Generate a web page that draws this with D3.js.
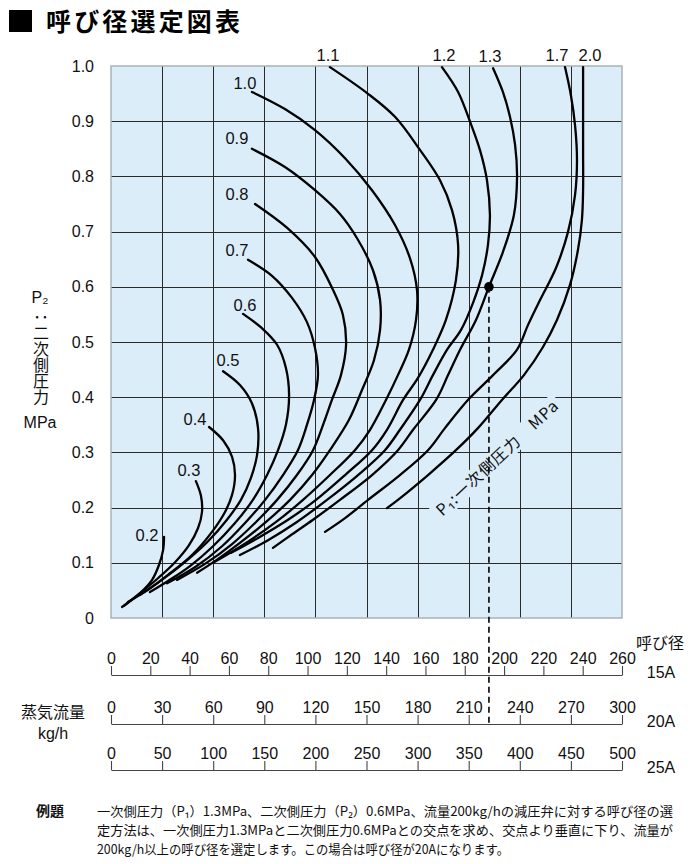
<!DOCTYPE html>
<html><head><meta charset="utf-8">
<script src="https://cdn.jsdelivr.net/npm/d3@7/dist/d3.min.js"></script>
<style>
body{margin:0;background:#fff;}
svg{display:block;}
</style></head><body>
<svg id="c" width="700" height="864"></svg>
<script>
// ---------------- data ----------------
const p2Ticks = [0, 0.1, 0.2, 0.3, 0.4, 0.5, 0.6, 0.7, 0.8, 0.9, 1.0];
const p2TickLabels = ["0", "0.1", "0.2", "0.3", "0.4", "0.5", "0.6", "0.7", "0.8", "0.9", "1.0"];
const flow15A = [0, 20, 40, 60, 80, 100, 120, 140, 160, 180, 200, 220, 240, 260];
const flow20A = [0, 30, 60, 90, 120, 150, 180, 210, 240, 270, 300];
const flow25A = [0, 50, 100, 150, 200, 250, 300, 350, 400, 450, 500];
const sizeNames = ["15A", "20A", "25A"];
const p1Labels = ["0.2", "0.3", "0.4", "0.5", "0.6", "0.7", "0.8", "0.9", "1.0", "1.1", "1.2", "1.3", "1.7", "2.0"];

// each curve: [flow (kg/h on 15A scale), P2 (MPa)]
const curve_0_2 = [[27.0,0.147],[26.5,0.123],[24.4,0.096],[20.9,0.069],[14.8,0.045],[5.6,0.020]];
const curve_0_3 = [[43.2,0.248],[45.8,0.221],[46.3,0.192],[44.3,0.163],[39.7,0.132],[32.6,0.101],[23.9,0.072],[14.8,0.045],[6.6,0.022]];
const curve_0_4 = [[49.9,0.346],[57.0,0.322],[61.6,0.292],[63.1,0.259],[61.6,0.223],[58.0,0.192],[51.4,0.156],[41.2,0.114],[29.0,0.078],[18.8,0.051],[8.6,0.029]];
const curve_0_5 = [[57.0,0.447],[65.6,0.422],[71.7,0.389],[74.8,0.344],[74.3,0.295],[71.2,0.254],[66.1,0.214],[59.0,0.178],[49.4,0.139],[38.2,0.103],[25.9,0.069],[14.8,0.042]];
const curve_0_6 = [[67.2,0.551],[76.8,0.525],[84.5,0.495],[89.0,0.453],[90.6,0.404],[89.0,0.350],[85.0,0.304],[79.4,0.259],[72.2,0.214],[63.1,0.172],[51.9,0.130],[40.2,0.094],[29.0,0.067],[19.8,0.047]];
const curve_0_7 = [[69.7,0.649],[81.9,0.620],[92.1,0.580],[99.7,0.536],[103.8,0.489],[105.3,0.440],[103.3,0.395],[99.7,0.350],[95.1,0.304],[87.5,0.259],[78.4,0.214],[68.2,0.172],[56.5,0.130],[42.7,0.092],[28.5,0.063]];
const curve_0_8 = [[73.3,0.750],[89.5,0.707],[103.8,0.654],[113.0,0.594],[118.0,0.549],[119.6,0.495],[117.0,0.440],[112.4,0.395],[107.9,0.350],[102.8,0.304],[94.6,0.259],[84.5,0.214],[73.8,0.174],[61.6,0.134],[47.8,0.098],[33.6,0.069]];
const curve_0_9 = [[71.7,0.850],[88.5,0.817],[103.8,0.775],[116.5,0.732],[125.2,0.688],[133.3,0.630],[136.9,0.576],[136.9,0.522],[133.8,0.467],[127.7,0.413],[121.1,0.359],[111.4,0.304],[102.3,0.259],[91.1,0.214],[78.9,0.174],[65.6,0.136],[52.9,0.103],[43.8,0.082]];
const curve_1_0 = [[71.7,0.953],[88.5,0.922],[103.8,0.884],[119.1,0.833],[132.8,0.775],[144.5,0.712],[152.1,0.652],[155.7,0.594],[155.2,0.540],[151.6,0.486],[146.0,0.440],[139.9,0.395],[131.8,0.341],[124.1,0.304],[111.4,0.259],[97.7,0.214],[84.0,0.174],[68.7,0.136],[51.9,0.100]];
const curve_1_1 = [[111.4,0.998],[130.3,0.951],[144.5,0.908],[157.2,0.848],[167.4,0.793],[173.5,0.739],[176.6,0.676],[175.5,0.612],[170.4,0.540],[163.8,0.486],[156.2,0.435],[148.6,0.395],[140.4,0.341],[132.8,0.304],[119.1,0.259],[104.3,0.214],[90.1,0.178],[74.8,0.145],[61.1,0.118]];
const curve_1_2 = [[168.4,0.998],[176.6,0.953],[182.7,0.899],[187.7,0.848],[191.3,0.793],[192.8,0.730],[191.8,0.676],[188.8,0.621],[184.2,0.571],[178.1,0.522],[171.0,0.486],[163.8,0.440],[157.2,0.395],[147.0,0.341],[139.4,0.304],[125.7,0.259],[109.9,0.214],[94.6,0.174],[79.9,0.141],[65.6,0.114]];
const curve_1_3 = [[194.4,0.996],[199.4,0.953],[203.0,0.908],[205.6,0.857],[206.6,0.799],[205.0,0.730],[199.4,0.663],[192.3,0.600],[185.7,0.540],[177.6,0.486],[171.5,0.440],[165.4,0.395],[153.7,0.341],[146.0,0.304],[132.8,0.259],[116.5,0.214],[102.8,0.178],[91.1,0.149],[82.4,0.127]];
const curve_1_7 = [[231.0,0.998],[234.0,0.947],[236.1,0.893],[237.1,0.830],[236.1,0.766],[232.5,0.699],[226.4,0.634],[218.3,0.576],[212.2,0.531],[206.6,0.486],[194.4,0.440],[181.6,0.395],[169.9,0.344],[161.3,0.304],[147.0,0.259],[130.8,0.214],[119.1,0.181],[108.9,0.156]];
const curve_2_0 = [[240.2,0.998],[240.2,0.920],[240.2,0.848],[240.2,0.775],[239.6,0.721],[237.6,0.667],[233.5,0.603],[226.9,0.540],[219.8,0.491],[210.1,0.440],[198.9,0.395],[186.7,0.344],[175.5,0.304],[161.3,0.259],[146.0,0.214],[140.4,0.199]];
const curves = [curve_0_2, curve_0_3, curve_0_4, curve_0_5, curve_0_6, curve_0_7, curve_0_8, curve_0_9, curve_1_0, curve_1_1, curve_1_2, curve_1_3, curve_1_7, curve_2_0];

// worked example: P1 1.3 MPa, P2 0.6 MPa
const exampleFlow = 192.3;
const exampleP2 = 0.6;

// ---------------- layout ----------------
const PL = 111, PR = 622, PT = 66, PB = 618;
const labelOffset = { // label centre relative to curve start (px)
  "0.2":[-17,-2],"0.3":[-7,-11],"0.4":[-14,-8],"0.5":[5,-11],"0.6":[2,-9],"0.7":[-11,-10],
  "0.8":[-18,-10],"0.9":[-15,-11],"1.0":[-7,-9],"1.1":[-2,-12],"1.2":[2,-12],"1.3":[-3,-12],
  "1.7":[-8,-12],"2.0":[7,-12]};
const NUM = '"Liberation Sans", Arial, sans-serif';
const JP = '"Noto Sans CJK JP", "Noto Sans", sans-serif';
const BG = "#dcedfa";

const svg = d3.select("#c");
const x = d3.scaleLinear().domain([0, 260]).range([PL, PR]);
const x20 = d3.scaleLinear().domain([0, 300]).range([PL, PR]);
const x25 = d3.scaleLinear().domain([0, 500]).range([PL, PR]);
const y = d3.scaleLinear().domain([0, 1]).range([PB, PT]);

// title
svg.append("rect").attr("x", 9).attr("y", 10).attr("width", 23).attr("height", 22).attr("fill", "#000");
svg.append("text").attr("x", 46).attr("y", 31).attr("font-family", JP).attr("font-weight", 700)
  .attr("font-size", 25).attr("textLength", 194).attr("lengthAdjust", "spacing").text("呼び径選定図表");

// plot background
svg.append("rect").attr("x", PL).attr("y", PT).attr("width", PR - PL).attr("height", PB - PT)
  .attr("fill", BG);

// grid
const grid = svg.append("g").attr("stroke", "#2a2a2a").attr("stroke-width", 1);
grid.selectAll("line.v").data(d3.range(26, 260, 26)).join("line")
  .attr("x1", d => Math.round(x(d)) + 0.5).attr("x2", d => Math.round(x(d)) + 0.5)
  .attr("y1", PT).attr("y2", PB);
grid.selectAll("line.h").data(p2Ticks.slice(1, -1)).join("line")
  .attr("y1", d => Math.round(y(d)) + 0.5).attr("y2", d => Math.round(y(d)) + 0.5)
  .attr("x1", PL).attr("x2", PR);
svg.append("rect").attr("x", PL).attr("y", PT).attr("width", PR - PL).attr("height", PB - PT)
  .attr("fill", "none").attr("stroke", "#a9b1b8").attr("stroke-width", 1.5);

// rotated P1 label with background patch
const g1 = svg.append("g").attr("transform", "translate(497,458) rotate(-43)");
g1.append("rect").attr("x", -84).attr("y", -10).attr("width", 168).attr("height", 20).attr("fill", BG);
g1.append("text").attr("text-anchor", "middle").attr("dy", "0.36em")
  .attr("font-family", JP).attr("font-size", 16).attr("fill", "#111")
  .attr("textLength", 160).attr("lengthAdjust", "spacing")
  .text("P₁:一次側圧力　MPa");

// y axis
const yAxis = d3.axisLeft(y).tickValues(p2Ticks).tickSize(0).tickPadding(17)
  .tickFormat((d, i) => p2TickLabels[i]);
const ya = svg.append("g").attr("transform", `translate(${PL},0)`).call(yAxis);
ya.select(".domain").remove();
ya.selectAll("text").attr("font-family", NUM).attr("font-size", 16).attr("fill", "#111");

// y title (vertical)
const yt = svg.append("g").attr("font-size", 16).attr("fill", "#111");
yt.append("text").attr("x", 40).attr("y", 303).attr("text-anchor", "middle").attr("font-family", NUM).text("P₂");
yt.append("text").attr("x", 41).attr("y", 309).attr("font-family", JP)
  .style("writing-mode", "vertical-rl").text("：二次側圧力");
yt.append("text").attr("x", 40).attr("y", 428).attr("text-anchor", "middle").attr("font-family", NUM).text("MPa");

// curves
const line = d3.line().x(d => x(d[0])).y(d => y(d[1])).curve(d3.curveCatmullRom.alpha(0.5));
svg.append("g").selectAll("path").data(curves).join("path")
  .attr("d", line).attr("fill", "none").attr("stroke", "#000").attr("stroke-width", 2.3)
  .attr("stroke-linecap", "round");

// curve labels
svg.append("g").selectAll("text").data(curves).join("text")
  .attr("x", (d, i) => x(d[0][0]) + labelOffset[p1Labels[i]][0])
  .attr("y", (d, i) => y(d[0][1]) + labelOffset[p1Labels[i]][1])
  .attr("dy", "0.36em").attr("text-anchor", "middle")
  .attr("font-family", NUM).attr("font-size", 16.5).attr("fill", "#111")
  .text((d, i) => p1Labels[i]);

// bottom axes
const axesDef = [[x, flow15A, 675], [x20, flow20A, 724], [x25, flow25A, 770]];
axesDef.forEach(([sc, ticks, yy], k) => {
  const ax = d3.axisTop(sc).tickValues(ticks).tickSizeInner(9).tickSizeOuter(0).tickPadding(2)
    .tickFormat(d3.format("d"));
  const g = svg.append("g").attr("transform", `translate(0,${yy})`).call(ax);
  g.select(".domain").attr("stroke", "#444").attr("stroke-width", 1.2);
  g.selectAll(".tick line").attr("stroke", "#444").attr("stroke-width", 1.1);
  g.selectAll("text").attr("font-family", NUM).attr("font-size", 16).attr("fill", "#111");
  svg.append("text").attr("x", 661).attr("y", yy + 3).attr("text-anchor", "middle")
    .attr("font-family", NUM).attr("font-size", 16).attr("fill", "#111").text(sizeNames[k]);
});
svg.append("text").attr("x", 660).attr("y", 649).attr("text-anchor", "middle")
  .attr("font-family", JP).attr("font-size", 16).attr("fill", "#111").text("呼び径");
svg.append("text").attr("x", 53).attr("y", 718).attr("text-anchor", "middle")
  .attr("font-family", JP).attr("font-size", 16).attr("fill", "#111").text("蒸気流量");
svg.append("text").attr("x", 53).attr("y", 739).attr("text-anchor", "middle")
  .attr("font-family", NUM).attr("font-size", 16).attr("fill", "#111").text("kg/h");

// example dashed line and point
svg.append("line").attr("x1", x(exampleFlow)).attr("x2", x(exampleFlow))
  .attr("y1", y(exampleP2)).attr("y2", 724)
  .attr("stroke", "#000").attr("stroke-width", 1.6).attr("stroke-dasharray", "6,4");
svg.append("circle").attr("cx", x(exampleFlow)).attr("cy", y(exampleP2)).attr("r", 4.8).attr("fill", "#000");

// footnote
const fn = svg.append("g").attr("font-family", JP).attr("font-size", 13).attr("fill", "#111");
fn.append("text").attr("x", 36).attr("y", 816).attr("font-size", 14).attr("font-weight", 700).text("例題");
fn.append("text").attr("x", 97).attr("y", 816).attr("textLength", 576).attr("lengthAdjust", "spacingAndGlyphs")
  .text("一次側圧力（P₁）1.3MPa、二次側圧力（P₂）0.6MPa、流量200kg/hの減圧弁に対する呼び径の選");
fn.append("text").attr("x", 97).attr("y", 835).attr("textLength", 576).attr("lengthAdjust", "spacingAndGlyphs")
  .text("定方法は、一次側圧力1.3MPaと二次側圧力0.6MPaとの交点を求め、交点より垂直に下り、流量が");
fn.append("text").attr("x", 97).attr("y", 854).attr("textLength", 412).attr("lengthAdjust", "spacingAndGlyphs")
  .text("200kg/h以上の呼び径を選定します。この場合は呼び径が20Aになります。");
</script>
</body></html>
